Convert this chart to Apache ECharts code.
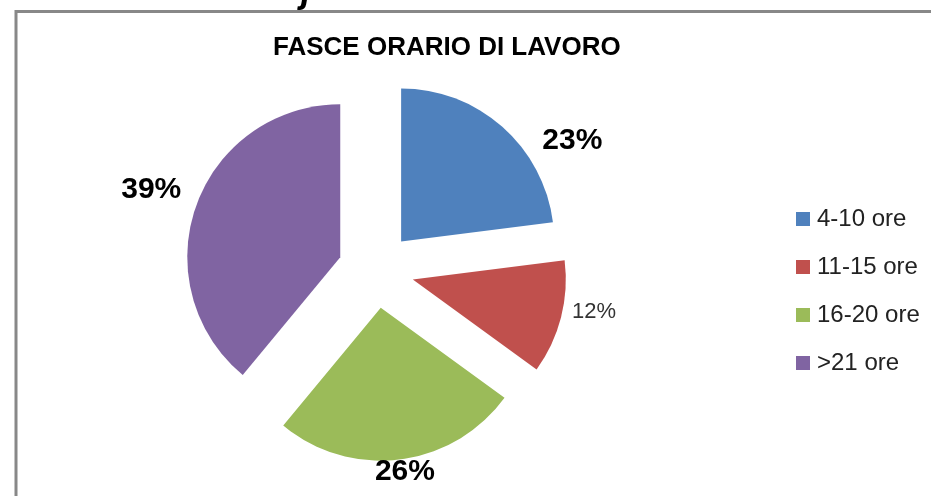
<!DOCTYPE html>
<html>
<head>
<meta charset="utf-8">
<script src="https://cdn.jsdelivr.net/npm/echarts@6/dist/echarts.min.js"></script>
<style>
  html, body { margin: 0; padding: 0; background: #fff; }
  #chart { width: 931px; height: 496px; }
</style>
</head>
<body>
<div id="chart"></div>
<script>
// dati del grafico
const categories = ['4-10 ore', '11-15 ore', '16-20 ore', '>21 ore'];
const values = [23, 12, 26, 39];
const colors = ['#4F81BD', '#C0504D', '#9BBB59', '#8064A2'];
// etichette: grassetto tranne 11-15
const labelBold = [true, false, true, true];
// spostamento etichette rispetto alla posizione "outside"
const labelNudge = [[35, 14], [6, -6], [-30, 12], [-10, -16]];

const chart = echarts.init(document.getElementById('chart'));

const pieData = categories.map((name, i) => ({
  name: name,
  value: values[i],
  selected: true,
  itemStyle: { color: colors[i] },
  label: labelBold[i]
    ? { fontSize: 30, fontWeight: 'bold', color: '#000' }
    : { fontSize: 22, fontWeight: 'normal', color: '#333' }
}));

chart.setOption({
  animation: false,
  title: {
    text: 'FASCE ORARIO DI LAVORO',
    left: 273,
    top: 35,
    padding: 0,
    textStyle: {
      fontFamily: 'Liberation Sans',
      fontSize: 26,
      fontWeight: 'bold',
      color: '#000'
    }
  },
  legend: {
    orient: 'vertical',
    left: 796,
    top: 207,
    padding: 0,
    icon: 'rect',
    itemWidth: 14,
    itemHeight: 14,
    itemGap: 24,
    selectedMode: false,
    data: categories,
    textStyle: {
      fontFamily: 'Liberation Sans',
      fontSize: 24,
      lineHeight: 24,
      color: '#222',
      padding: [0, 0, 0, 2]
    }
  },
  graphic: [
    {
      type: 'rect',
      shape: { x: 16, y: 11.5, width: 1000, height: 600 },
      style: { fill: 'none', stroke: '#888', lineWidth: 3 },
      silent: true
    },
    {
      type: 'text',
      x: 301,
      y: 10,
      style: {
        text: 'j',
        font: 'italic bold 36px "Liberation Sans"',
        fill: '#000',
        verticalAlign: 'bottom'
      },
      silent: true
    }
  ],
  series: [
    {
      type: 'pie',
      center: [376, 270],
      radius: 153,
      startAngle: 90,
      clockwise: true,
      selectedMode: 'multiple',
      selectedOffset: 38,
      avoidLabelOverlap: false,
      itemStyle: { borderWidth: 0 },
      emphasis: { disabled: true },
      label: {
        show: true,
        position: 'outside',
        formatter: '{d}%',
        fontFamily: 'Liberation Sans',
        distanceToLabelLine: 5
      },
      labelLine: { show: false, length: 0, length2: 0 },
      labelLayout: function (p) {
        const n = labelNudge[p.dataIndex];
        return { dx: n[0], dy: n[1] };
      },
      data: pieData
    }
  ]
});
</script>
</body>
</html>
